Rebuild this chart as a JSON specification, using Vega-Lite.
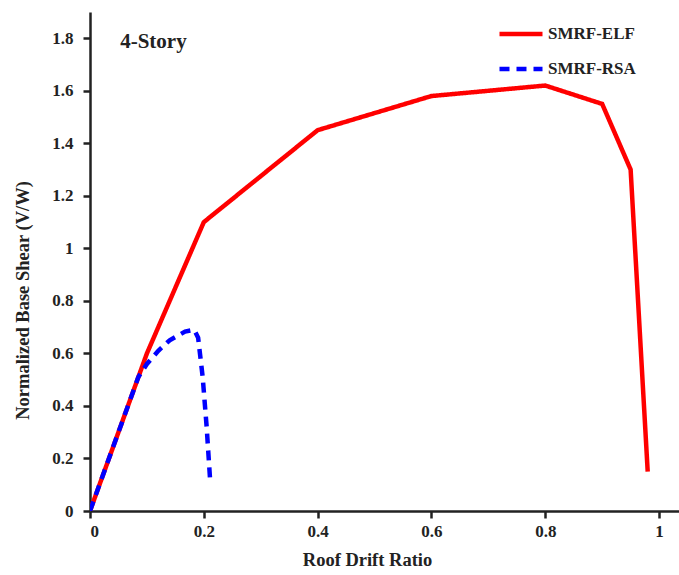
{
  "$schema": "https://vega.github.io/schema/vega-lite/v6.json",
  "width": 589,
  "height": 499,
  "autosize": {"type": "none"},
  "padding": {"left": 90, "top": 12, "right": 0, "bottom": 64},
  "background": "white",
  "config": {
    "view": {"stroke": null},
    "font": "Liberation Serif",
    "axis": {
      "grid": false,
      "domainColor": "#222222",
      "domainWidth": 2.5,
      "tickColor": "#222222",
      "tickWidth": 2.5,
      "tickSize": 7,
      "labelFont": "Liberation Serif",
      "labelFontSize": 17,
      "labelFontWeight": "bold",
      "labelColor": "#222222",
      "titleFont": "Liberation Serif",
      "titleFontSize": 18.5,
      "titleFontWeight": "bold",
      "titleColor": "#222222"
    }
  },
  "datasets": {
    "curves": [
      {"drift": 0, "shear": 0, "series": "SMRF-ELF"},
      {"drift": 0.1, "shear": 0.6, "series": "SMRF-ELF"},
      {"drift": 0.2, "shear": 1.1, "series": "SMRF-ELF"},
      {"drift": 0.4, "shear": 1.45, "series": "SMRF-ELF"},
      {"drift": 0.6, "shear": 1.58, "series": "SMRF-ELF"},
      {"drift": 0.8, "shear": 1.62, "series": "SMRF-ELF"},
      {"drift": 0.9, "shear": 1.55, "series": "SMRF-ELF"},
      {"drift": 0.95, "shear": 1.3, "series": "SMRF-ELF"},
      {"drift": 0.98, "shear": 0.15, "series": "SMRF-ELF"},
      {"drift": 0, "shear": 0, "series": "SMRF-RSA"},
      {"drift": 0.085, "shear": 0.51, "series": "SMRF-RSA"},
      {"drift": 0.1, "shear": 0.56, "series": "SMRF-RSA"},
      {"drift": 0.12, "shear": 0.61, "series": "SMRF-RSA"},
      {"drift": 0.14, "shear": 0.65, "series": "SMRF-RSA"},
      {"drift": 0.167, "shear": 0.683, "series": "SMRF-RSA"},
      {"drift": 0.183, "shear": 0.69, "series": "SMRF-RSA"},
      {"drift": 0.19, "shear": 0.66, "series": "SMRF-RSA"},
      {"drift": 0.198, "shear": 0.51, "series": "SMRF-RSA"},
      {"drift": 0.205, "shear": 0.32, "series": "SMRF-RSA"},
      {"drift": 0.211, "shear": 0.12, "series": "SMRF-RSA"}
    ],
    "label": [{"drift": 0.053, "shear": 1.785, "text": "4-Story"}]
  },
  "layer": [
    {
      "data": {"name": "curves"},
      "mark": {"type": "line", "strokeWidth": 4.5, "clip": true},
      "encoding": {
        "x": {
          "field": "drift", "type": "quantitative",
          "scale": {"domain": [0, 1.035], "nice": false, "zero": false},
          "axis": {"values": [0, 0.2, 0.4, 0.6, 0.8, 1], "format": ".1~f", "title": "Roof Drift Ratio", "labelPadding": 5, "titleX": 277, "titleY": 54, "titleBaseline": "alphabetic"}
        },
        "y": {
          "field": "shear", "type": "quantitative",
          "scale": {"domain": [0, 1.9], "nice": false},
          "axis": {"values": [0, 0.2, 0.4, 0.6, 0.8, 1, 1.2, 1.4, 1.6, 1.8], "format": ".1~f", "title": "Normalized Base Shear (V/W)", "labelPadding": 10, "titleY": 288, "titleX": -58}
        },
        "color": {
          "field": "series", "type": "nominal",
          "scale": {"domain": ["SMRF-ELF", "SMRF-RSA"], "range": ["#ff0000", "#0000ff"]},
          "legend": {
            "title": null,
            "orient": "none",
            "legendX": 407,
            "legendY": -2,
            "symbolType": "stroke",
            "symbolSize": 1850,
            "symbolStrokeWidth": 4.5,
            "labelFont": "Liberation Serif",
            "labelFontSize": 17,
            "labelFontWeight": "bold",
            "labelColor": "#222222",
            "rowPadding": 2,
            "labelOffset": 3,
            "encode": {
              "symbols": {
                "update": {
                  "strokeDash": {"signal": "datum.value === 'SMRF-RSA' ? [14, 13] : [1, 0]"}
                }
              }
            }
          }
        },
        "strokeDash": {
          "field": "series", "type": "nominal",
          "scale": {"domain": ["SMRF-ELF", "SMRF-RSA"], "range": [[1, 0], [10, 7]]},
          "legend": null
        }
      }
    },
    {
      "data": {"name": "label"},
      "mark": {"type": "text", "font": "Liberation Serif", "fontSize": 21, "fontWeight": "bold", "align": "left", "baseline": "middle", "color": "#222222"},
      "encoding": {
        "x": {"field": "drift", "type": "quantitative"},
        "y": {"field": "shear", "type": "quantitative"},
        "text": {"field": "text"}
      }
    },
    {
      "mark": {"type": "rule", "color": "#222222", "strokeWidth": 2.5},
      "encoding": {"y": {"datum": 1.9}}
    }
  ]
}
